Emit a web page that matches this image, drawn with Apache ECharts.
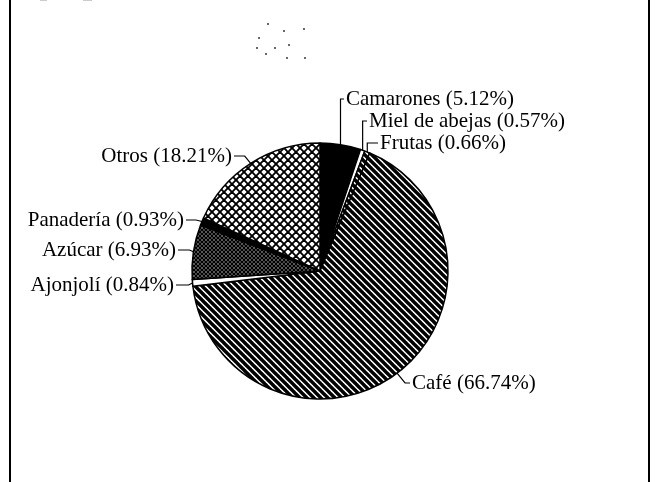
<!DOCTYPE html>
<html>
<head>
<meta charset="utf-8">
<script src="https://cdn.jsdelivr.net/npm/echarts@6/dist/echarts.min.js"></script>
<style>
  html, body { margin: 0; padding: 0; background: #fff; }
  #chart { width: 656px; height: 482px; }
</style>
</head>
<body>
<div id="chart"></div>
<script>
// exportaciones por producto, % del total
var categories = ['Camarones', 'Miel de abejas', 'Frutas', 'Café', 'Ajonjolí', 'Azúcar', 'Panadería', 'Otros'];
var shares = [5.12, 0.57, 0.66, 66.74, 0.84, 6.93, 0.93, 18.21];

// layout only: where each label sits and how the leader bends
var cx = 320, cy = 271, R = 128;
var labelAt = [[346, 99, 'left'], [369, 121, 'left'], [380, 143, 'left'], [412, 383, 'left'],
               [174, 285, 'right'], [176, 250, 'right'], [184, 220, 'right'], [232, 156, 'right']];
var elbowDx = [0, 0, 0, 8, -4, -4, -6, -6];

function hatch(size, w, dirs, bg) {
  var c = document.createElement('canvas');
  c.width = c.height = size;
  var g = c.getContext('2d');
  g.fillStyle = bg; g.fillRect(0, 0, size, size);
  g.strokeStyle = '#000'; g.lineWidth = w;
  dirs.forEach(function (d) {
    for (var k = -1; k <= 1; k++) {
      g.beginPath();
      if (d === '\\') { g.moveTo(k * size - 1, -1); g.lineTo(k * size + size + 1, size + 1); }
      else { g.moveTo(k * size - 1, size + 1); g.lineTo(k * size + size + 1, -1); }
      g.stroke();
    }
  });
  return { image: c, repeat: 'repeat' };
}

var diag = hatch(7, 3.4, ['\\'], '#fff');
var fills = ['#000', '#fff', diag, diag, '#fff', hatch(4, 1.6, ['\\', '/'], '#fff'), '#000', hatch(8, 1.9, ['\\', '/'], '#fff')];

var data = categories.map(function (n, i) {
  return { name: n, value: shares[i], itemStyle: { color: fills[i] } };
});

// leader lines from the middle of each slice's rim to its label
var total = shares.reduce(function (a, b) { return a + b; }, 0);
var acc = 0, leaders = [];
shares.forEach(function (v, i) {
  var a = (acc + v / 2) / total * 2 * Math.PI;
  acc += v;
  var ax = cx + R * Math.sin(a), ay = cy - R * Math.cos(a);
  var L = labelAt[i];
  var endX = L[2] === 'left' ? L[0] - 2 : L[0] + 2;
  leaders.push({
    type: 'polyline', silent: true,
    shape: { points: [[ax, ay], [ax + elbowDx[i], L[1]], [endX, L[1]]] },
    style: { stroke: '#000', lineWidth: 1.2, fill: null }
  });
});

// scan specks and frame
var specks = [[268, 24], [284, 31], [304, 29], [259, 38], [257, 48], [266, 54], [275, 48], [289, 45], [287, 58], [305, 58]];
var extras = [
  { type: 'rect', shape: { x: 9, y: 0, width: 2, height: 482 }, style: { fill: '#000' } },
  { type: 'rect', shape: { x: 648, y: 0, width: 2, height: 482 }, style: { fill: '#000' } },
  { type: 'rect', shape: { x: 40, y: 0, width: 7, height: 1 }, style: { fill: '#ccc' } },
  { type: 'rect', shape: { x: 83, y: 0, width: 9, height: 1 }, style: { fill: '#ccc' } }
];
specks.forEach(function (p) {
  extras.push({ type: 'circle', shape: { cx: p[0], cy: p[1], r: 0.9 }, style: { fill: '#222' } });
});

var chart = echarts.init(document.getElementById('chart'));
chart.setOption({
  backgroundColor: '#fff',
  animation: false,
  graphic: leaders.concat(extras),
  series: [{
    type: 'pie',
    center: [cx, cy],
    radius: R,
    startAngle: 90,
    clockwise: true,
    avoidLabelOverlap: false,
    minAngle: 0,
    itemStyle: { borderColor: '#000', borderWidth: 1.5 },
    emphasis: { disabled: true },
    label: {
      show: true,
      position: 'outside',
      formatter: '{b} ({c}%)',
      fontFamily: 'Liberation Serif',
      fontSize: 21,
      color: '#000'
    },
    labelLine: { show: false },
    labelLayout: function (p) {
      var L = labelAt[p.dataIndex];
      return { x: L[0], y: L[1], align: L[2], verticalAlign: 'middle' };
    },
    data: data
  }]
});
</script>
</body>
</html>
